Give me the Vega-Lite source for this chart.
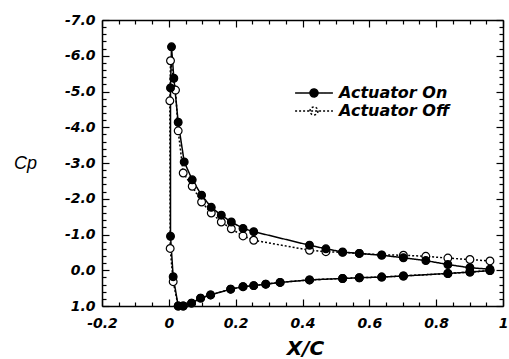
{
  "$schema": "https://vega.github.io/schema/vega-lite/v6.json",
  "width": 401,
  "height": 286,
  "autosize": "none",
  "padding": {"left": 102, "top": 20, "right": 6, "bottom": 53},
  "background": "white",
  "config": {
    "view": {"stroke": null},
    "axis": {
      "grid": false,
      "domainColor": "black",
      "domainWidth": 1.5,
      "tickColor": "black",
      "tickWidth": 1.2,
      "labelColor": "black",
      "labelFont": "DejaVu Sans",
      "labelFontStyle": "italic",
      "labelFontWeight": "bold",
      "labelFontSize": 14,
      "labelOverlap": false,
      "labelFlush": false,
      "titleColor": "black"
    },
    "legend": {
      "labelFont": "DejaVu Sans",
      "labelFontStyle": "italic",
      "labelFontWeight": "bold",
      "labelFontSize": 16,
      "labelColor": "black",
      "labelLimit": 300
    }
  },
  "data": {
    "values": [
      {"s": "Actuator Off", "i": 1, "x": 0.961, "cp": -0.26},
      {"s": "Actuator Off", "i": 2, "x": 0.901, "cp": -0.30},
      {"s": "Actuator Off", "i": 3, "x": 0.835, "cp": -0.34},
      {"s": "Actuator Off", "i": 4, "x": 0.769, "cp": -0.39},
      {"s": "Actuator Off", "i": 5, "x": 0.702, "cp": -0.42},
      {"s": "Actuator Off", "i": 6, "x": 0.637, "cp": -0.43},
      {"s": "Actuator Off", "i": 7, "x": 0.57, "cp": -0.47},
      {"s": "Actuator Off", "i": 8, "x": 0.52, "cp": -0.50},
      {"s": "Actuator Off", "i": 9, "x": 0.47, "cp": -0.52},
      {"s": "Actuator Off", "i": 10, "x": 0.421, "cp": -0.56},
      {"s": "Actuator Off", "i": 11, "x": 0.254, "cp": -0.84},
      {"s": "Actuator Off", "i": 12, "x": 0.222, "cp": -0.96},
      {"s": "Actuator Off", "i": 13, "x": 0.187, "cp": -1.16},
      {"s": "Actuator Off", "i": 14, "x": 0.157, "cp": -1.35},
      {"s": "Actuator Off", "i": 15, "x": 0.127, "cp": -1.60},
      {"s": "Actuator Off", "i": 16, "x": 0.098, "cp": -1.91},
      {"s": "Actuator Off", "i": 17, "x": 0.07, "cp": -2.35},
      {"s": "Actuator Off", "i": 18, "x": 0.043, "cp": -2.72},
      {"s": "Actuator Off", "i": 19, "x": 0.028, "cp": -3.90},
      {"s": "Actuator Off", "i": 20, "x": 0.02, "cp": -5.04},
      {"s": "Actuator Off", "i": 21, "x": 0.005, "cp": -5.86},
      {"s": "Actuator Off", "i": 22, "x": 0.003, "cp": -4.74},
      {"s": "Actuator Off", "i": 23, "x": 0.004, "cp": -0.61},
      {"s": "Actuator Off", "i": 24, "x": 0.013, "cp": 0.32},
      {"s": "Actuator Off", "i": 25, "x": 0.028, "cp": 1.0},
      {"s": "Actuator Off", "i": 26, "x": 0.043, "cp": 1.0},
      {"s": "Actuator Off", "i": 27, "x": 0.068, "cp": 0.92},
      {"s": "Actuator Off", "i": 28, "x": 0.095, "cp": 0.78},
      {"s": "Actuator Off", "i": 29, "x": 0.125, "cp": 0.69},
      {"s": "Actuator Off", "i": 30, "x": 0.185, "cp": 0.53},
      {"s": "Actuator Off", "i": 31, "x": 0.222, "cp": 0.46},
      {"s": "Actuator Off", "i": 32, "x": 0.254, "cp": 0.43},
      {"s": "Actuator Off", "i": 33, "x": 0.29, "cp": 0.39},
      {"s": "Actuator Off", "i": 34, "x": 0.333, "cp": 0.34},
      {"s": "Actuator Off", "i": 35, "x": 0.421, "cp": 0.27},
      {"s": "Actuator Off", "i": 36, "x": 0.52, "cp": 0.23},
      {"s": "Actuator Off", "i": 37, "x": 0.57, "cp": 0.21},
      {"s": "Actuator Off", "i": 38, "x": 0.637, "cp": 0.19},
      {"s": "Actuator Off", "i": 39, "x": 0.702, "cp": 0.16},
      {"s": "Actuator Off", "i": 40, "x": 0.835, "cp": 0.09},
      {"s": "Actuator Off", "i": 41, "x": 0.901, "cp": 0.05},
      {"s": "Actuator Off", "i": 42, "x": 0.961, "cp": 0.01},
      {"s": "Actuator On", "i": 1, "x": 0.961, "cp": -0.03},
      {"s": "Actuator On", "i": 2, "x": 0.901, "cp": -0.07},
      {"s": "Actuator On", "i": 3, "x": 0.835, "cp": -0.16},
      {"s": "Actuator On", "i": 4, "x": 0.769, "cp": -0.27},
      {"s": "Actuator On", "i": 5, "x": 0.702, "cp": -0.35},
      {"s": "Actuator On", "i": 6, "x": 0.637, "cp": -0.42},
      {"s": "Actuator On", "i": 7, "x": 0.57, "cp": -0.47},
      {"s": "Actuator On", "i": 8, "x": 0.52, "cp": -0.51},
      {"s": "Actuator On", "i": 9, "x": 0.47, "cp": -0.60},
      {"s": "Actuator On", "i": 10, "x": 0.421, "cp": -0.70},
      {"s": "Actuator On", "i": 11, "x": 0.254, "cp": -1.08},
      {"s": "Actuator On", "i": 12, "x": 0.222, "cp": -1.17},
      {"s": "Actuator On", "i": 13, "x": 0.187, "cp": -1.35},
      {"s": "Actuator On", "i": 14, "x": 0.157, "cp": -1.54},
      {"s": "Actuator On", "i": 15, "x": 0.127, "cp": -1.76},
      {"s": "Actuator On", "i": 16, "x": 0.098, "cp": -2.10},
      {"s": "Actuator On", "i": 17, "x": 0.07, "cp": -2.53},
      {"s": "Actuator On", "i": 18, "x": 0.046, "cp": -3.03},
      {"s": "Actuator On", "i": 19, "x": 0.028, "cp": -4.14},
      {"s": "Actuator On", "i": 20, "x": 0.015, "cp": -5.37},
      {"s": "Actuator On", "i": 21, "x": 0.008, "cp": -6.25},
      {"s": "Actuator On", "i": 22, "x": 0.005, "cp": -5.10},
      {"s": "Actuator On", "i": 23, "x": 0.005, "cp": -0.95},
      {"s": "Actuator On", "i": 24, "x": 0.013, "cp": 0.18},
      {"s": "Actuator On", "i": 25, "x": 0.028, "cp": 1.0},
      {"s": "Actuator On", "i": 26, "x": 0.043, "cp": 1.0},
      {"s": "Actuator On", "i": 27, "x": 0.068, "cp": 0.92},
      {"s": "Actuator On", "i": 28, "x": 0.095, "cp": 0.78},
      {"s": "Actuator On", "i": 29, "x": 0.125, "cp": 0.69},
      {"s": "Actuator On", "i": 30, "x": 0.185, "cp": 0.53},
      {"s": "Actuator On", "i": 31, "x": 0.222, "cp": 0.46},
      {"s": "Actuator On", "i": 32, "x": 0.254, "cp": 0.43},
      {"s": "Actuator On", "i": 33, "x": 0.29, "cp": 0.39},
      {"s": "Actuator On", "i": 34, "x": 0.333, "cp": 0.34},
      {"s": "Actuator On", "i": 35, "x": 0.421, "cp": 0.27},
      {"s": "Actuator On", "i": 36, "x": 0.52, "cp": 0.23},
      {"s": "Actuator On", "i": 37, "x": 0.57, "cp": 0.21},
      {"s": "Actuator On", "i": 38, "x": 0.637, "cp": 0.19},
      {"s": "Actuator On", "i": 39, "x": 0.702, "cp": 0.16},
      {"s": "Actuator On", "i": 40, "x": 0.835, "cp": 0.09},
      {"s": "Actuator On", "i": 41, "x": 0.901, "cp": 0.05},
      {"s": "Actuator On", "i": 42, "x": 0.961, "cp": 0.01}
    ]
  },
  "resolve": {"axis": {"x": "independent", "y": "independent"}},
  "layer": [
    {
      "mark": {"type": "line", "color": "black", "strokeWidth": 1.5},
      "encoding": {
        "x": {
          "field": "x", "type": "quantitative",
          "scale": {"domain": [-0.2, 1], "nice": false, "zero": false},
          "axis": {
            "orient": "bottom",
            "values": [-0.2,-0.15,-0.1,-0.05,0,0.05,0.1,0.15,0.2,0.25,0.3,0.35,0.4,0.45,0.5,0.55,0.6,0.65,0.7,0.75,0.8,0.85,0.9,0.95,1],
            "labelExpr": "abs(datum.value*5-round(datum.value*5))<0.001 ? (datum.value < -0.001 ? '-' : '') + format(abs(datum.value), '~g') : ''",
            "tickSize": {"condition": {"test": "abs(datum.value*5-round(datum.value*5))<0.001", "value": -7}, "value": -4},
            "labelPadding": 17,
            "title": "X/C",
            "titleFont": "DejaVu Sans",
            "titleFontStyle": "italic",
            "titleFontWeight": "bold",
            "titleFontSize": 20,
            "titleX": 203,
            "titleY": 42,
            "titleBaseline": "middle",
            "titleAlign": "center"
          }
        },
        "y": {
          "field": "cp", "type": "quantitative",
          "scale": {"domain": [-7, 1], "reverse": true, "nice": false, "zero": false},
          "axis": {
            "orient": "left",
            "values": [-7,-6.8,-6.6,-6.4,-6.2,-6,-5.8,-5.6,-5.4,-5.2,-5,-4.8,-4.6,-4.4,-4.2,-4,-3.8,-3.6,-3.4,-3.2,-3,-2.8,-2.6,-2.4,-2.2,-2,-1.8,-1.6,-1.4,-1.2,-1,-0.8,-0.6,-0.4,-0.2,0,0.2,0.4,0.6,0.8,1],
            "labelExpr": "abs(datum.value-round(datum.value))<0.001 ? (datum.value < -0.001 ? '-' : '') + format(abs(datum.value), '.1f') : ''",
            "tickSize": {"condition": {"test": "abs(datum.value-round(datum.value))<0.001", "value": -7}, "value": -4},
            "labelPadding": 14,
            "title": "Cp",
            "titleFont": "Liberation Sans",
            "titleFontStyle": "italic",
            "titleFontWeight": "normal",
            "titleFontSize": 18,
            "titleAngle": 0,
            "titleX": -77,
            "titleY": 143,
            "titleAlign": "center",
            "titleBaseline": "middle"
          }
        },
        "detail": {"field": "s"},
        "order": {"field": "i", "type": "quantitative"},
        "strokeDash": {
          "field": "s", "type": "nominal",
          "scale": {"domain": ["Actuator On", "Actuator Off"], "range": [[1, 0], [2, 2]]},
          "legend": {
            "title": null,
            "orient": "none",
            "legendX": 204,
            "legendY": 65,
            "symbolType": "M-2.7,0H2.7M0.57,0A0.57,0.57,0,1,1,-0.57,0A0.57,0.57,0,1,1,0.57,0Z",
            "symbolSize": 196,
            "symbolStrokeColor": "black",
            "symbolStrokeWidth": 1.5,
            "labelOffset": 17,
            "rowPadding": 2
          }
        }
      }
    },
    {
      "mark": {"type": "point", "filled": true, "shape": "circle", "size": 60, "stroke": "black", "strokeWidth": 1.2, "opacity": 1},
      "encoding": {
        "x": {"field": "x", "type": "quantitative", "axis": null},
        "y": {"field": "cp", "type": "quantitative", "axis": null},
        "fill": {
          "field": "s", "type": "nominal",
          "scale": {"domain": ["Actuator On", "Actuator Off"], "range": ["black", "white"]},
          "legend": {
            "title": null,
            "orient": "none",
            "legendX": 204,
            "legendY": 65,
            "symbolType": "M-2.7,0H2.7M0.57,0A0.57,0.57,0,1,1,-0.57,0A0.57,0.57,0,1,1,0.57,0Z",
            "symbolSize": 196,
            "symbolStrokeColor": "black",
            "symbolStrokeWidth": 1.5,
            "labelOffset": 17,
            "rowPadding": 2
          }
        }
      }
    },
    {
      "mark": {"type": "point", "opacity": 0},
      "encoding": {
        "x": {
          "field": "x", "type": "quantitative",
          "axis": {
            "orient": "top",
            "values": [-0.2,-0.15,-0.1,-0.05,0,0.05,0.1,0.15,0.2,0.25,0.3,0.35,0.4,0.45,0.5,0.55,0.6,0.65,0.7,0.75,0.8,0.85,0.9,0.95,1],
            "labels": false,
            "tickSize": {"condition": {"test": "abs(datum.value*5-round(datum.value*5))<0.001", "value": -7}, "value": -4},
            "title": null
          }
        },
        "y": {
          "field": "cp", "type": "quantitative",
          "axis": {
            "orient": "right",
            "values": [-7,-6.8,-6.6,-6.4,-6.2,-6,-5.8,-5.6,-5.4,-5.2,-5,-4.8,-4.6,-4.4,-4.2,-4,-3.8,-3.6,-3.4,-3.2,-3,-2.8,-2.6,-2.4,-2.2,-2,-1.8,-1.6,-1.4,-1.2,-1,-0.8,-0.6,-0.4,-0.2,0,0.2,0.4,0.6,0.8,1],
            "labels": false,
            "tickSize": {"condition": {"test": "abs(datum.value-round(datum.value))<0.001", "value": -7}, "value": -4},
            "title": null
          }
        }
      }
    }
  ]
}
